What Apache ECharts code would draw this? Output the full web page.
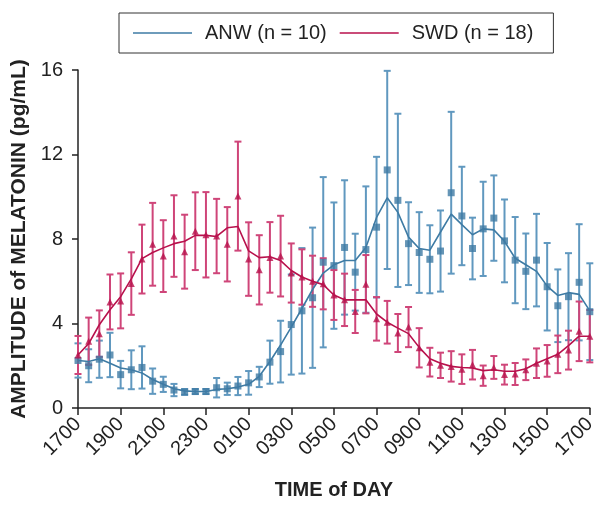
<!DOCTYPE html>
<html>
<head>
<meta charset="utf-8">
<script src="https://cdn.jsdelivr.net/npm/echarts@6/dist/echarts.min.js"></script>
<style>
  html, body { margin: 0; padding: 0; background: #fff; }
  #main { width: 599px; height: 505px; }
</style>
</head>
<body>
<div id="main"></div>
<script>
// half-hour sampling points, 1700 -> 1700 next day
const times = [
  '1700', '1730', '1800', '1830', '1900', '1930', '2000', '2030', '2100', '2130',
  '2200', '2230', '2300', '2330', '0000', '0030', '0100', '0130', '0200', '0230',
  '0300', '0330', '0400', '0430', '0500', '0530', '0600', '0630', '0700', '0730',
  '0800', '0830', '0900', '0930', '1000', '1030', '1100', '1130', '1200', '1230',
  '1300', '1330', '1400', '1430', '1500', '1530', '1600', '1630', '1700'
];

// ANW: mean amplitude, SEM and the smoothed curve
const anwMean = [
  2.25, 2.00, 2.31, 2.51, 1.58, 1.81, 1.92, 1.27, 1.12, 0.85,
  0.76, 0.78, 0.78, 0.96, 0.91, 1.04, 1.19, 1.47, 2.17, 2.67,
  3.95, 4.60, 5.22, 6.90, 6.74, 7.60, 6.43, 7.50, 8.56, 11.27,
  9.83, 7.78, 7.36, 7.04, 7.43, 10.19, 9.09, 7.55, 8.48, 8.99,
  7.91, 7.00, 6.47, 7.00, 5.74, 4.84, 5.27, 5.95, 4.56
];
const anwSem = [
  0.81, 0.78, 0.88, 1.05, 0.65, 0.92, 1.00, 0.60, 0.36, 0.29,
  0.14, 0.12, 0.12, 0.46, 0.29, 0.43, 0.56, 0.48, 1.02, 1.46,
  2.37, 2.97, 3.32, 4.03, 2.99, 3.18, 1.82, 2.99, 3.33, 4.69,
  4.10, 1.96, 1.91, 1.61, 1.92, 3.83, 2.33, 1.46, 2.23, 2.02,
  1.96, 2.04, 1.79, 2.19, 2.07, 1.72, 2.06, 2.75, 2.29
];
const anwCurve = [
  2.25, 2.20, 2.33, 2.12, 1.89, 1.81, 1.66, 1.35, 1.12, 0.91,
  0.81, 0.78, 0.78, 0.88, 0.91, 0.99, 1.12, 1.50, 2.20, 2.98,
  3.83, 4.71, 5.61, 6.39, 6.78, 6.98, 6.98, 7.60, 9.02, 9.95,
  9.26, 8.09, 7.55, 7.47, 8.33, 9.18, 8.68, 8.20, 8.48, 8.43,
  7.89, 7.09, 6.78, 6.47, 5.77, 5.33, 5.46, 5.38, 4.60
];

// SWD: mean amplitude, SEM and the smoothed curve
const swdMean = [
  2.51, 3.16, 3.52, 5.02, 5.07, 5.89, 7.05, 7.75, 7.19, 8.14,
  7.40, 8.37, 8.20, 8.14, 7.75, 10.03, 7.05, 6.54, 7.13, 7.19,
  6.39, 6.20, 6.00, 5.88, 5.35, 5.12, 4.57, 5.86, 4.22, 4.06,
  3.55, 3.83, 2.85, 2.17, 2.02, 1.97, 1.84, 2.05, 1.53, 1.92,
  1.58, 1.61, 1.81, 2.12, 2.23, 2.54, 2.74, 3.63, 3.40
];
const swdSem = [
  0.90, 1.12, 1.10, 1.30, 1.30, 1.48, 1.63, 1.96, 1.70, 1.93,
  1.75, 1.84, 2.02, 1.76, 1.76, 2.58, 1.74, 1.64, 1.67, 1.91,
  1.40, 1.31, 1.21, 1.21, 1.18, 1.24, 1.02, 1.38, 1.03, 1.01,
  0.90, 0.95, 0.93, 0.68, 0.60, 0.72, 0.70, 0.70, 0.48, 0.54,
  0.47, 0.52, 0.49, 0.70, 0.75, 0.89, 0.92, 1.41, 1.24
];
const swdCurve = [
  2.51, 3.05, 3.94, 4.65, 5.27, 6.11, 7.07, 7.36, 7.58, 7.78,
  7.89, 8.17, 8.17, 8.12, 8.53, 8.59, 7.44, 7.12, 7.16, 6.98,
  6.51, 6.20, 6.00, 5.84, 5.35, 5.12, 5.12, 5.12, 4.45, 4.06,
  3.78, 3.52, 2.87, 2.33, 2.12, 1.97, 1.92, 1.89, 1.77, 1.81,
  1.74, 1.74, 1.86, 2.12, 2.33, 2.54, 2.95, 3.40, 3.40
];

const yTicks = [0, 4, 8, 12, 16];

const blue = '#3e7ba4';
const blueBar = '#6098bf';
const red = '#b8114c';
const redBar = '#cf4579';
const font = 'Liberation Sans, Arial, sans-serif';

function errorData(mean, sem) {
  return mean.map((m, i) => [i, m - sem[i], m + sem[i]]);
}

function errorBars(name, mean, sem, color) {
  return {
    type: 'custom',
    name: name,
    data: errorData(mean, sem),
    z: 2,
    silent: true,
    renderItem: function (params, api) {
      const lo = api.coord([api.value(0), api.value(1)]);
      const hi = api.coord([api.value(0), api.value(2)]);
      const w = 3.5;
      const style = { stroke: color, lineWidth: 2 };
      return {
        type: 'group',
        children: [
          { type: 'line', shape: { x1: lo[0], y1: lo[1], x2: hi[0], y2: hi[1] }, style: style },
          { type: 'line', shape: { x1: hi[0] - w, y1: hi[1], x2: hi[0] + w, y2: hi[1] }, style: style },
          { type: 'line', shape: { x1: lo[0] - w, y1: lo[1], x2: lo[0] + w, y2: lo[1] }, style: style }
        ]
      };
    }
  };
}

var myChart = echarts.init(document.getElementById('main'));
myChart.setOption({
  animation: false,
  textStyle: { fontFamily: font },
  legend: {
    data: ['ANW (n = 10)', 'SWD (n = 18)'],
    left: 119,
    top: 13,
    orient: 'horizontal',
    padding: [9, 20, 9, 14],
    icon: 'rect',
    itemWidth: 59,
    itemHeight: 1.5,
    itemGap: 13,
    borderColor: '#333',
    borderWidth: 1,
    textStyle: { fontSize: 20, lineHeight: 22, color: '#222', padding: [0, 0, 0, 8], fontFamily: font }
  },
  grid: { left: 78, right: 5, top: 70, bottom: 91 },
  xAxis: {
    type: 'category',
    data: times,
    boundaryGap: false,
    name: 'TIME of DAY',
    nameLocation: 'middle',
    nameGap: 72,
    nameTextStyle: { fontSize: 20, fontWeight: 'bold', color: '#222', fontFamily: font },
    axisLine: { lineStyle: { color: '#222', width: 1.5 } },
    axisTick: { interval: 3, length: 7, lineStyle: { color: '#222', width: 1.5 } },
    axisLabel: { interval: 3, rotate: 45, fontSize: 20, color: '#222', margin: 13, fontFamily: font },
    splitLine: { show: false }
  },
  yAxis: {
    type: 'value',
    min: yTicks[0],
    max: yTicks[yTicks.length - 1],
    interval: 4,
    name: 'AMPLITUDE of MELATONIN (pg/mL)',
    nameLocation: 'middle',
    nameGap: 45,
    nameTextStyle: { fontSize: 21, fontWeight: 'bold', color: '#222', fontFamily: font },
    axisLine: { show: true, lineStyle: { color: '#222', width: 1.5 } },
    axisTick: { show: true, length: 6, lineStyle: { color: '#222', width: 1.5 } },
    axisLabel: { fontSize: 20, color: '#222', margin: 15, fontFamily: font },
    splitLine: { show: false }
  },
  series: [
    errorBars('anwErr', anwMean, anwSem, blueBar),
    errorBars('swdErr', swdMean, swdSem, redBar),
    {
      type: 'line',
      name: 'ANW (n = 10)',
      data: anwCurve,
      showSymbol: false,
      symbol: 'none',
      z: 3,
      lineStyle: { color: blue, width: 1.6 },
      itemStyle: { color: blue }
    },
    {
      type: 'line',
      name: 'SWD (n = 18)',
      data: swdCurve,
      showSymbol: false,
      symbol: 'none',
      z: 3,
      lineStyle: { color: red, width: 1.6 },
      itemStyle: { color: red }
    },
    {
      type: 'scatter',
      name: 'anwPts',
      data: anwMean,
      symbol: 'rect',
      symbolSize: 7,
      z: 4,
      itemStyle: { color: blue }
    },
    {
      type: 'scatter',
      name: 'swdPts',
      data: swdMean,
      symbol: 'triangle',
      symbolSize: 7,
      z: 4,
      itemStyle: { color: red }
    }
  ]
});
</script>
</body>
</html>
